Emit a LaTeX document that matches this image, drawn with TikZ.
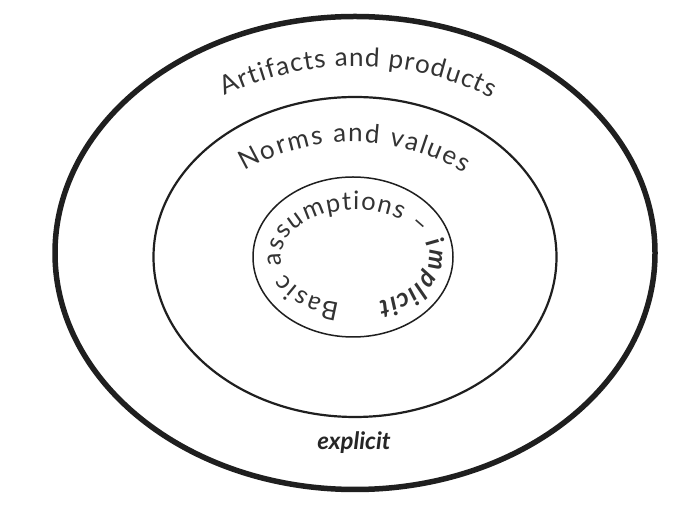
\documentclass[tikz,border=0pt]{standalone}
\usepackage{fontspec}
\setmainfont{Lato}
\usetikzlibrary{decorations.text,shapes.geometric,calc}
\begin{document}
\begin{tikzpicture}[x=1pt,y=1pt,
  ring/.style={draw=black!88, ellipse, inner sep=0pt, outer sep=0pt},
  arctext/.style={decorate, decoration={text along path, text align={fit to path}, text color=black!80}},
  ringlabel/.style={text=black!85}
]
\useasboundingbox[fill=white] (0,0) rectangle (693,508);
% rings
\node[ring, line width=5.5pt, minimum width=600pt, minimum height=473pt] (outer) at (355,255) {};
\node[ring, line width=2.2pt, minimum width=403pt, minimum height=320pt] (middle) at (355,251) {};
\node[ring, line width=1.5pt, minimum width=200pt, minimum height=160pt] (inner) at (353,251) {};
% curved labels
\path[arctext, decoration={text={|\fontsize{26}{30}\selectfont|Artifacts and products}}]
  ($(356,139)+(115.7:303)$) arc[start angle=115.7, end angle=63.5, radius=303];
\path[arctext, decoration={text={|\fontsize{26}{30}\selectfont|Norms and values}}]
  ($(352.5,152.3)+(120.3:213.7)$) arc[start angle=120.3, end angle=58.5, radius=213.7];
\path[arctext, decoration={text={|\fontsize{25.5}{29}\selectfont|Basic assumptions – |\fontsize{25.5}{29}\selectfont\bfseries\itshape|implicit}}]
  ($(355,251)+(258:74 and 47)$) arc[start angle=258, end angle=-72, x radius=74, y radius=47];
% explicit
\node[ringlabel, font=\fontsize{24}{28}\selectfont\bfseries\itshape, anchor=base] (explicit) at (354,58) {explicit};
\end{tikzpicture}
\end{document}
